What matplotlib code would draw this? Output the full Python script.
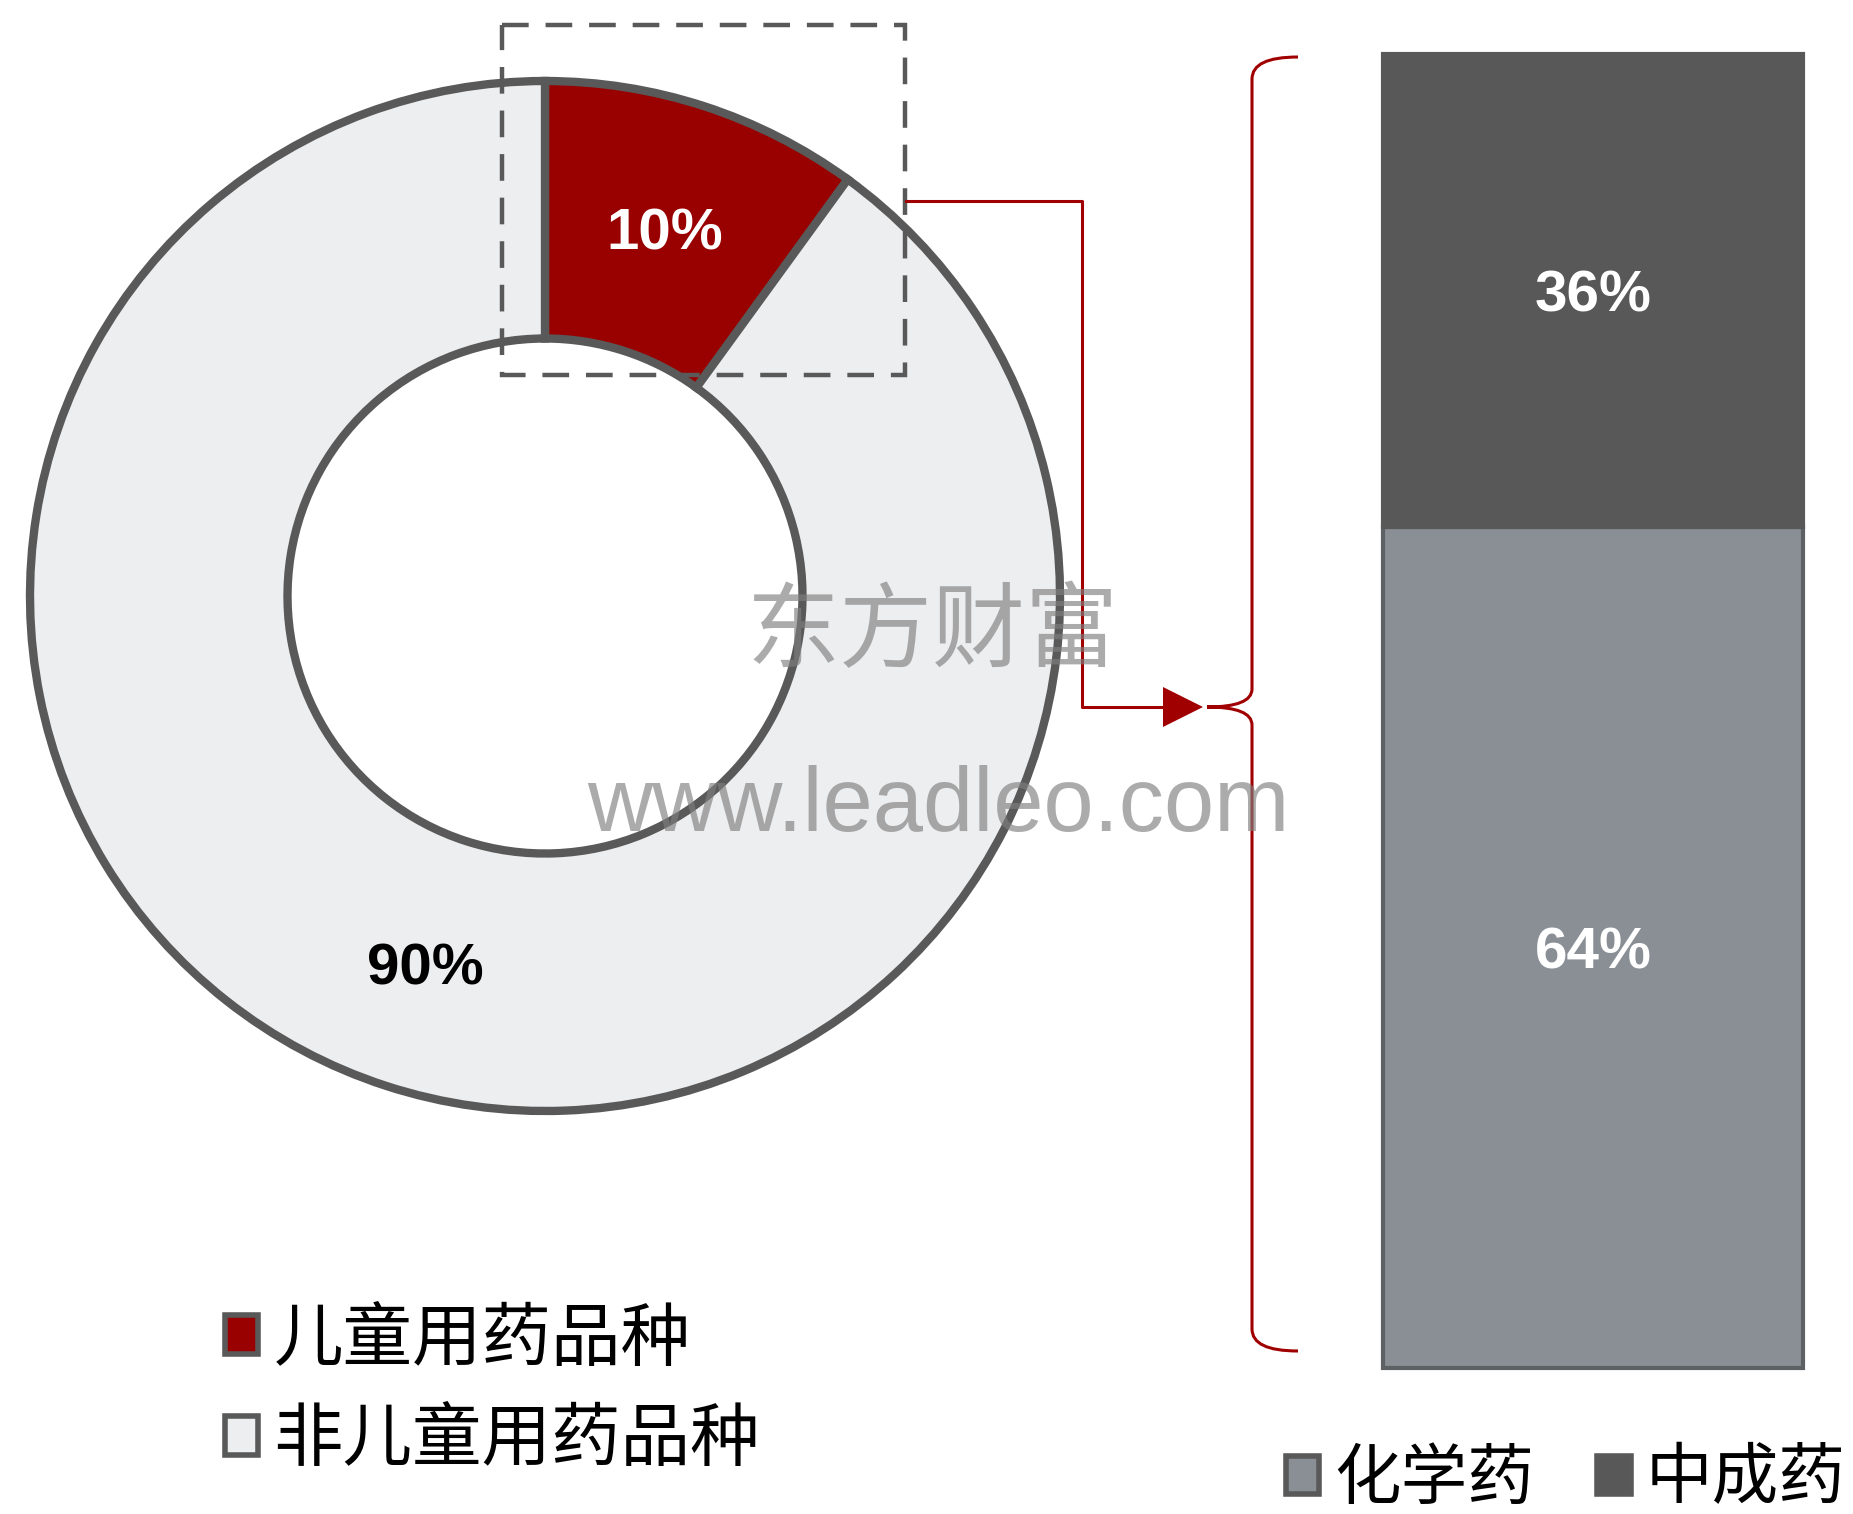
import matplotlib
matplotlib.use('Agg')
import matplotlib.pyplot as plt
from matplotlib.patches import Patch, Polygon, Rectangle, PathPatch
from matplotlib.path import Path

plt.rcParams['font.family'] = ['Noto Sans CJK SC', 'DejaVu Sans']
NUM_FONT = ['Liberation Sans', 'DejaVu Sans']

# 药品品种占比（环形图）
share_labels = ['儿童用药品种', '非儿童用药品种']
share_values = [10, 90]
share_colors = ['#990000', '#EDEEF0']
share_text_colors = ['white', 'black']

# 儿童用药构成（堆积柱）
mix_labels = ['化学药', '中成药']
mix_values = [64, 36]
mix_colors = ['#898F95', '#585858']
mix_edges = ['#5E6164', '#585858']

EDGE = '#595959'
RED = '#A00000'

W, H = 1853, 1514
fig = plt.figure(figsize=(W / 100, H / 100), dpi=100)


def fig_box(x0, y0, x1, y1):
    # pixel box with top-left origin -> figure fraction rect
    return [x0 / W, 1 - y1 / H, (x1 - x0) / W, (y1 - y0) / H]


# donut
cx, cy, r = 545, 596, 515
lim = 1.03
ax_pie = fig.add_axes(fig_box(cx - r * lim, cy - r * lim, cx + r * lim, cy + r * lim))
wedges, texts, autotexts = ax_pie.pie(
    share_values, colors=share_colors, startangle=90, counterclock=False,
    radius=1, autopct='%.0f%%', pctdistance=0.75,
    wedgeprops=dict(width=0.5, edgecolor=EDGE, linewidth=6))
for t, c in zip(autotexts, share_text_colors):
    t.set_color(c)
    t.set_fontsize(42)
    t.set_fontweight('bold')
    t.set_family(NUM_FONT)
    t.set_va('center_baseline')
ax_pie.set_xlim(-lim, lim)
ax_pie.set_ylim(-lim, lim)
ax_pie.set_aspect('equal')

# stacked bar
ax_bar = fig.add_axes(fig_box(1383, 54, 1803, 1368))
bottom = 0
for v, c, ec in zip(mix_values, mix_colors, mix_edges):
    bars = ax_bar.bar(0, v, bottom=bottom, width=1, color=c, edgecolor=ec,
                      linewidth=3, clip_on=False)
    for lbl in ax_bar.bar_label(bars, labels=[f'{v}%'], label_type='center',
                                color='white', fontsize=42, fontweight='bold',
                                family=NUM_FONT):
        lbl.set_va('center_baseline')
    bottom += v
ax_bar.set_xlim(-0.5, 0.5)
ax_bar.set_ylim(0, 100)
ax_bar.axis('off')

# overlay in pixel coordinates for callout, brace and watermark
ov = fig.add_axes([0, 0, 1, 1])
ov.set_xlim(0, W)
ov.set_ylim(H, 0)
ov.axis('off')
ov.patch.set_alpha(0)

ov.add_patch(Rectangle((502, 25), 403, 350, fill=False, ec=EDGE, lw=3.2,
                       ls=(0, (6, 3.8))))
ov.plot([906, 1082, 1082, 1168], [201, 201, 707, 707], color=RED, lw=2.2)
ov.add_patch(Polygon([[1163, 687], [1163, 727], [1203, 707]], closed=True,
                     color=RED, lw=0))

bx, tipx, ends = 1252, 1207, 1298
top, mid, bot = 57, 707, 1351
verts = [(ends, top), (bx, top), (bx, top + 22), (bx, mid - 18),
         (bx, mid), (tipx, mid), (bx, mid), (bx, mid + 18),
         (bx, bot - 22), (bx, bot), (ends, bot)]
codes = [Path.MOVETO, Path.CURVE3, Path.CURVE3, Path.LINETO,
         Path.CURVE3, Path.CURVE3, Path.CURVE3, Path.CURVE3,
         Path.LINETO, Path.CURVE3, Path.CURVE3]
ov.add_patch(PathPatch(Path(verts, codes), fill=False, ec=RED, lw=2.2))

# watermark
ov.text(932, 633, '东方财富', fontsize=67, color='#7f7f7f', alpha=0.65,
        ha='center', va='center', zorder=10)
ov.text(587, 831, 'www.leadleo.com', fontsize=65, color='#7f7f7f', alpha=0.65,
        ha='left', va='baseline', family=NUM_FONT, zorder=10)

# legends
share_handles = [Patch(facecolor=c, edgecolor=EDGE, linewidth=4) for c in share_colors]
fig.legend(share_handles, share_labels, loc='upper left',
           bbox_to_anchor=(225 / W, 1 - 1304 / H), frameon=False, fontsize=50,
           handlelength=0.48, handleheight=0.48, handletextpad=0.22,
           labelspacing=0.42, borderpad=0, borderaxespad=0)

mix_handles = [Patch(facecolor=c, edgecolor=EDGE, linewidth=4) for c in mix_colors]
fig.legend(mix_handles, mix_labels, loc='upper left', ncol=2,
           bbox_to_anchor=(1286 / W, 1 - 1446 / H), frameon=False, fontsize=48,
           handlelength=0.5, handleheight=0.5, handletextpad=0.22,
           columnspacing=0.95, borderpad=0, borderaxespad=0)

fig.savefig('out.png', dpi=100)
